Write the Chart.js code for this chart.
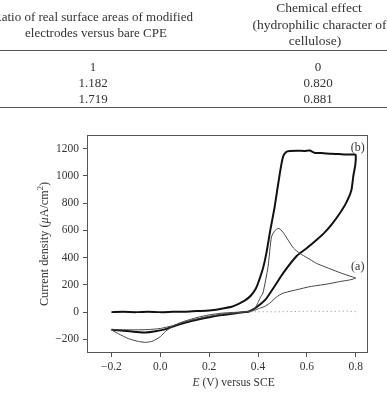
<!DOCTYPE html>
<html><head><meta charset="utf-8">
<script src="https://cdn.jsdelivr.net/npm/chart.js@4.4.1/dist/chart.umd.min.js"></script>
<style>
html,body{margin:0;padding:0;background:#fff;}
#wrap{position:relative;width:387px;height:393px;overflow:hidden;font-family:'Liberation Serif',serif;color:#333;}
canvas{position:absolute;left:0;top:0;}
.t{position:absolute;white-space:nowrap;font-size:13px;line-height:1;transform:translate(-50%,-50%);}
.rule{position:absolute;left:0;width:387px;height:1px;background:#555;}
</style></head><body>
<div id="wrap">
<canvas id="c" width="387" height="393"></canvas>
<div id="table"></div>
</div>
<script>
// ---- table fragment ----
const headLeft = ["Ratio of real surface areas of modified", "electrodes versus bare CPE"];
const headRight = ["Chemical effect", "(hydrophilic character of", "cellulose)"];
const ratioValues = ["1", "1.182", "1.719"];
const chemValues = ["0", "0.820", "0.881"];

// ---- chart data ----
const xTicks = [-0.2, 0.0, 0.2, 0.4, 0.6, 0.8];
const yTicks = [-200, 0, 200, 400, 600, 800, 1000, 1200];

// curve (b): forward then reverse scan
const curveB_E = [-0.2,-0.15,-0.1,-0.05,0.0,0.05,0.1,0.15,0.2,0.25,0.295,0.33,0.35,0.37,0.39,0.40,0.42,0.434,0.45,0.468,0.489,0.502,0.515,0.53,0.56,0.59,0.612,0.63,0.66,0.70,0.73,0.76,0.796,0.80,
  0.798,0.79,0.782,0.76,0.734,0.70,0.67,0.639,0.60,0.557,0.502,0.475,0.434,0.42,0.40,0.38,0.363,0.33,0.309,0.25,0.20,0.15,0.104,0.06,0.022,-0.02,-0.06,-0.10,-0.15,-0.20];
const curveB_J = [0,2,0,3,0,2,3,8,12,25,41,70,90,120,170,212,320,431,600,773,1017,1138,1175,1182,1185,1183,1186,1170,1168,1162,1160,1157,1157,1150,
  1080,1000,895,800,724,640,580,529,470,410,285,210,100,75,45,20,5,-3,-8,-22,-37,-56,-76,-100,-125,-140,-149,-145,-137,-129];

// curve (a): forward then reverse scan
const curveA_E = [-0.2,-0.17,-0.13,-0.09,-0.06,-0.03,0.0,0.022,0.05,0.077,0.1,0.15,0.2,0.25,0.3,0.35,0.37,0.387,0.40,0.41,0.42,0.441,0.455,0.47,0.482,0.49,0.505,0.523,0.545,0.571,0.60,0.639,0.67,0.707,0.75,0.796,0.80,
  0.78,0.734,0.68,0.612,0.56,0.502,0.475,0.448,0.425,0.407,0.38,0.35,0.30,0.25,0.20,0.15,0.10,0.05,0.0,-0.05,-0.10,-0.15,-0.20];
const curveA_J = [-130,-160,-195,-215,-222,-212,-180,-140,-105,-81,-66,-40,-20,-8,-2,3,10,29,70,110,139,334,553,600,614,610,580,529,470,431,400,358,335,309,280,253,250,
  238,224,205,187,165,139,110,66,40,29,10,2,-8,-15,-30,-50,-72,-100,-120,-128,-130,-130,-130];

// blank (dotted)
const blank_E = [0.37,0.42,0.47,0.52,0.57,0.62,0.67,0.72,0.76,0.80];
const blank_J = [2,3,2,4,5,7,5,6,8,3];

const pts = (E, J) => E.map((x, i) => ({x, y: J[i]}));

// build table text
const tbl = document.getElementById('table');
function addText(txt, x, y, size) {
  const d = document.createElement('div');
  d.className = 't'; d.textContent = txt;
  d.style.left = x + 'px'; d.style.top = y + 'px';
  if (size) d.style.fontSize = size + 'px';
  tbl.appendChild(d);
}
addText(headLeft[0], 93, 15.5);
addText(headLeft[1], 96, 32);
addText(headRight[0], 319, 8, 13.5);
addText(headRight[1], 319.5, 24.5, 13.5);
addText(headRight[2], 315, 41, 13.5);
ratioValues.forEach((v, i) => addText(v, 93, 65.5 + i * 16.2));
chemValues.forEach((v, i) => addText(v, 318, 65.5 + i * 16.2));
[50, 107].forEach(y => { const r = document.createElement('div'); r.className = 'rule'; r.style.top = y + 'px'; tbl.appendChild(r); });

const FONT = "'Liberation Serif', serif";
const TXT = '#333';

const decor = {
  id: 'decor',
  afterDraw(chart) {
    const {ctx, chartArea: a, scales: {x, y}} = chart;
    ctx.save();
    ctx.strokeStyle = '#555'; ctx.lineWidth = 1;
    ctx.strokeRect(Math.round(a.left) + 0.5, Math.round(a.top) + 0.5, Math.round(a.right - a.left) - 1, Math.round(a.bottom - a.top) - 1);
    ctx.fillStyle = TXT;
    ctx.textBaseline = 'middle';
    // curve labels
    ctx.font = '12px ' + FONT; ctx.textAlign = 'center';
    ctx.fillText('(b)', x.getPixelForValue(0.808), y.getPixelForValue(1209));
    ctx.fillText('(a)', x.getPixelForValue(0.808), y.getPixelForValue(331));
    // segmented text helper
    function drawSeg(segs, cx, cy) {
      let total = 0;
      segs.forEach(s => { ctx.font = s.f; s.w = ctx.measureText(s.t).width; total += s.w; });
      let px = cx - total / 2;
      ctx.textAlign = 'left';
      segs.forEach(s => { ctx.font = s.f; ctx.fillText(s.t, px, cy + (s.dy || 0)); px += s.w; });
    }
    const n = '11.5px ' + FONT, it = 'italic 11.5px ' + FONT;
    const n2 = '12.2px ' + FONT, it2 = 'italic 12.2px ' + FONT, sm = '8.5px ' + FONT;
    // x title
    drawSeg([{t: 'E', f: it}, {t: ' (V) versus SCE', f: n}], (x.getPixelForValue(-0.2) + x.getPixelForValue(0.8)) / 2, 383);
    // y title
    ctx.save();
    ctx.translate(45, (y.getPixelForValue(-200) + y.getPixelForValue(1200)) / 2);
    ctx.rotate(-Math.PI / 2);
    drawSeg([{t: 'Current density (', f: n2}, {t: 'μ', f: it2}, {t: 'A/cm', f: n2}, {t: '2', f: sm, dy: -4}, {t: ')', f: n2}], 0, 0);
    ctx.restore();
    ctx.restore();
  }
};

const fmt = v => (v < 0 ? '\u2212' : '') + Math.abs(v).toFixed(1);

new Chart(document.getElementById('c'), {
  type: 'scatter',
  data: {
    datasets: [
      {label: 'blank', data: pts(blank_E, blank_J), showLine: true, borderColor: '#888', borderWidth: 1, borderDash: [1, 3], pointRadius: 0},
      {label: '(a)', data: pts(curveA_E, curveA_J), showLine: true, borderColor: '#444', borderWidth: 1, pointRadius: 0, tension: 0.2},
      {label: '(b)', data: pts(curveB_E, curveB_J), showLine: true, borderColor: '#111', borderWidth: 2, pointRadius: 0, tension: 0.2}
    ]
  },
  options: {
    responsive: false,
    devicePixelRatio: 1,
    animation: false,
    layout: {padding: {top: 135, right: 19, left: 0, bottom: 0}},
    plugins: {legend: {display: false}, tooltip: {enabled: false}},
    scales: {
      x: {
        type: 'linear', min: -0.3, max: 0.85,
        afterBuildTicks: ax => { ax.ticks = xTicks.map(v => ({value: v})); },
        afterFit: s => { s.height = 40; },
        border: {display: false},
        grid: {drawOnChartArea: false, drawTicks: true, tickLength: 4, color: '#555'},
        ticks: {callback: v => fmt(v), font: {family: FONT, size: 11.5}, color: TXT, padding: 3, maxRotation: 0}
      },
      y: {
        type: 'linear', min: -300, max: 1300,
        afterBuildTicks: ax => { ax.ticks = yTicks.map(v => ({value: v})); },
        afterFit: s => { s.width = 87; },
        border: {display: false},
        grid: {drawOnChartArea: false, drawTicks: true, tickLength: 4, color: '#555'},
        ticks: {callback: v => (v < 0 ? '\u2212' : '') + Math.abs(v), font: {family: FONT, size: 11.5}, color: TXT, padding: 4}
      }
    }
  },
  plugins: [decor]
});
</script>
</body></html>
